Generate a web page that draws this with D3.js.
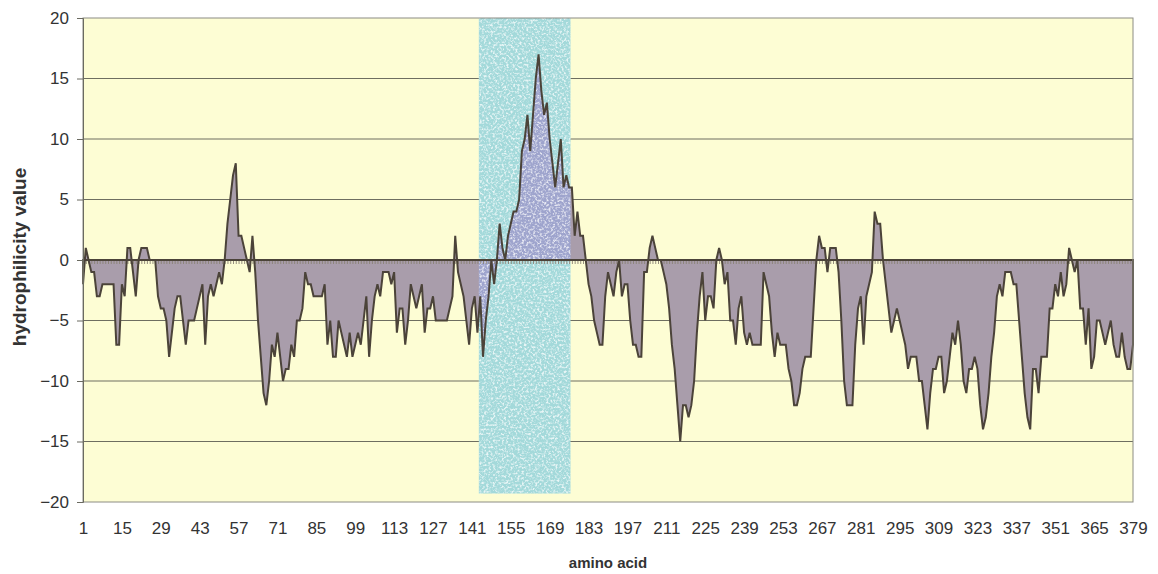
<!DOCTYPE html>
<html>
<head>
<meta charset="utf-8">
<script src="https://cdn.jsdelivr.net/npm/d3@7"></script>
<style>
  html, body { margin: 0; padding: 0; background: #ffffff; }
  svg { display: block; font-family: Arial, "Liberation Sans", sans-serif; }
</style>
</head>
<body>
<svg id="chart" width="1158" height="574"></svg>
<script>
// Amino acid positions along the sequence
const aminoAcids = d3.range(1, 380);

// Hydrophilicity value for each amino acid
const hydrophilicity = [
  -2, 1, 0, -1, -1, -3, -3, -2, -2, -2,
  -2, -2, -7, -7, -2, -3, 1, 1, -1, -3,
  0, 1, 1, 1, 0, 0, 0, -3, -4, -4,
  -5, -8, -6, -4, -3, -3, -5, -7, -5, -5,
  -5, -4, -3, -2, -7, -3, -2, -3, -2, -1,
  -2, 0, 3, 5, 7, 8, 2, 2, 1, 0,
  -1, 2, -1, -5, -8, -11, -12, -10, -7, -8,
  -6, -8, -10, -9, -9, -7, -8, -5, -5, -4,
  -1, -2, -2, -3, -3, -3, -3, -2, -7, -5,
  -8, -8, -5, -6, -7, -8, -6, -8, -7, -6,
  -7, -5, -3, -8, -5, -3, -2, -3, -1, -1,
  -1, -2, -1, -6, -4, -4, -7, -5, -2, -3,
  -4, -3, -2, -6, -4, -4, -3, -5, -5, -5,
  -5, -5, -4, -3, 2, -1, -2, -3, -5, -7,
  -4, -3, -6, -3, -8, -5, -3, 0, -2, 0,
  3, 1, 0, 2, 3, 4, 4, 5, 9, 10,
  12, 9, 12, 15, 17, 14, 12, 13, 10, 8,
  6, 8, 10, 6, 7, 6, 6, 2, 4, 2,
  2, 0, -2, -3, -5, -6, -7, -7, -3, -1,
  -2, -3, -1, 0, -3, -2, -2, -5, -7, -7,
  -8, -8, -1, -1, 1, 2, 1, 0, 0, -1,
  -2, -4, -7, -9, -12, -15, -12, -12, -13, -12,
  -10, -6, -3, -1, -5, -3, -3, -4, 0, 1,
  0, -2, -1, -5, -5, -7, -4, -3, -6, -7,
  -6, -7, -7, -7, -7, -1, -2, -3, -6, -8,
  -6, -7, -7, -7, -9, -10, -12, -12, -11, -9,
  -8, -8, -8, -4, 0, 2, 1, 1, -1, 1,
  1, 1, -1, -5, -10, -12, -12, -12, -7, -4,
  -3, -7, -3, -2, -1, 4, 3, 3, 0, -2,
  -4, -6, -5, -4, -5, -6, -7, -9, -8, -8,
  -8, -10, -10, -12, -14, -11, -9, -9, -8, -8,
  -11, -10, -8, -6, -7, -5, -7, -10, -11, -9,
  -9, -8, -9, -12, -14, -13, -11, -8, -6, -3,
  -2, -3, -1, -1, -1, -2, -2, -5, -8, -11,
  -13, -14, -9, -9, -11, -8, -8, -8, -4, -4,
  -2, -3, -1, -3, -2, 1, 0, -1, 0, -4,
  -4, -7, -4, -9, -8, -5, -5, -6, -7, -6,
  -5, -7, -8, -8, -6, -8, -9, -9, -7
];

// Category labels shown under the plot
const xTickLabels = [1, 15, 29, 43, 57, 71, 85, 99, 113, 127, 141, 155, 169, 183,
  197, 211, 225, 239, 253, 267, 281, 295, 309, 323, 337, 351, 365, 379];

// Value axis ticks
const yTicks = [-20, -15, -10, -5, 0, 5, 10, 15, 20];

// Highlighted stretch of the sequence (first and last amino acid) and its vertical span
const highlightRange = [144, 176];
const highlightSpan = [20, -19.3];

const svg = d3.select("#chart");
const plot = { left: 83, right: 1133, top: 18, bottom: 502 };

const x = d3.scalePoint().domain(aminoAcids).range([plot.left, plot.right]);
const y = d3.scaleLinear().domain([-20, 20]).range([plot.bottom, plot.top]);
const step = x.step();

const defs = svg.append("defs");

// speckled texture for the highlighted band
const f = defs.append("filter").attr("id", "speckle")
  .attr("x", 0).attr("y", 0).attr("width", "100%").attr("height", "100%");
f.append("feTurbulence").attr("type", "fractalNoise").attr("baseFrequency", 0.45)
  .attr("numOctaves", 2).attr("seed", 7).attr("result", "noise");
f.append("feColorMatrix").attr("in", "noise").attr("type", "matrix")
  .attr("values", "0 0 0 0 1  0 0 0 0 1  0 0 0 0 1  3.4 0 0 0 -1.55").attr("result", "white");
f.append("feComposite").attr("in", "white").attr("in2", "SourceGraphic").attr("operator", "in");

const bandX0 = x(highlightRange[0]) - step / 2;
const bandX1 = x(highlightRange[1]) + step / 2;

defs.append("clipPath").attr("id", "bandClip")
  .append("rect")
  .attr("x", bandX0).attr("y", y(highlightSpan[0]))
  .attr("width", bandX1 - bandX0).attr("height", y(highlightSpan[1]) - y(highlightSpan[0]));

// plot background
svg.append("rect")
  .attr("x", plot.left).attr("y", plot.top)
  .attr("width", plot.right - plot.left).attr("height", plot.bottom - plot.top)
  .attr("fill", "#fdfdd4");

// horizontal gridlines
svg.append("g").selectAll("line")
  .data(yTicks.filter(v => v !== -20 && v !== 20 && v !== 0))
  .join("line")
  .attr("x1", plot.left).attr("x2", plot.right)
  .attr("y1", d => y(d)).attr("y2", d => y(d))
  .attr("stroke", "#6e6e60").attr("stroke-width", 1.2);

// highlighted band
svg.append("rect")
  .attr("x", bandX0).attr("y", y(highlightSpan[0]))
  .attr("width", bandX1 - bandX0).attr("height", y(highlightSpan[1]) - y(highlightSpan[0]))
  .attr("fill", "#a3d9da");

const area = d3.area()
  .x((d, i) => x(aminoAcids[i]))
  .y0(y(0))
  .y1(d => y(d));

// filled profile
svg.append("path").datum(hydrophilicity)
  .attr("d", area)
  .attr("fill", "#a99dab");

// profile inside the highlighted band
svg.append("path").datum(hydrophilicity)
  .attr("d", area)
  .attr("clip-path", "url(#bandClip)")
  .attr("fill", "#9ea4cd");

// speckles over the band
svg.append("rect")
  .attr("x", bandX0).attr("y", y(highlightSpan[0]))
  .attr("width", bandX1 - bandX0).attr("height", y(highlightSpan[1]) - y(highlightSpan[0]))
  .attr("fill", "#ffffff")
  .attr("filter", "url(#speckle)")
  .attr("opacity", 0.75);

// category axis crossing at zero, with a tick at every amino acid
const xAxisZero = d3.axisBottom(x).tickValues(aminoAcids).tickSize(4).tickFormat("");
const gx0 = svg.append("g").attr("transform", `translate(0,${y(0)})`).call(xAxisZero);
gx0.select(".domain").remove();
gx0.selectAll(".tick line").attr("stroke", "#8a8275").attr("stroke-width", 0.9);
svg.append("line")
  .attr("x1", plot.left).attr("x2", plot.right)
  .attr("y1", y(0)).attr("y2", y(0))
  .attr("stroke", "#4a4339").attr("stroke-width", 1.6);

// profile outline
svg.append("path").datum(hydrophilicity)
  .attr("d", area)
  .attr("fill", "none")
  .attr("stroke", "#4b4339")
  .attr("stroke-width", 2)
  .attr("stroke-linejoin", "miter");

// plot border
svg.append("rect")
  .attr("x", plot.left).attr("y", plot.top)
  .attr("width", plot.right - plot.left).attr("height", plot.bottom - plot.top)
  .attr("fill", "none").attr("stroke", "#8c8c84").attr("stroke-width", 1);

// value axis
const yAxis = d3.axisLeft(y).tickValues(yTicks).tickSize(6).tickPadding(8);
const gy = svg.append("g").attr("transform", `translate(${plot.left},0)`).call(yAxis);
gy.select(".domain").attr("stroke", "#6a6a60");
gy.selectAll(".tick line").attr("stroke", "#6a6a60");
gy.selectAll(".tick text")
  .attr("font-size", 17).attr("fill", "#333333")
  .attr("font-family", "Arial, 'Liberation Sans', sans-serif");

// category labels under the plot
const xAxisLabels = d3.axisBottom(x).tickValues(xTickLabels).tickSize(0).tickPadding(0);
const gxl = svg.append("g").attr("transform", `translate(0,${plot.bottom})`).call(xAxisLabels);
gxl.select(".domain").remove();
gxl.selectAll(".tick text")
  .attr("y", 32).attr("dy", 0)
  .attr("font-size", 17).attr("fill", "#333333")
  .attr("font-family", "Arial, 'Liberation Sans', sans-serif");

// axis titles
svg.append("text")
  .attr("x", (plot.left + plot.right) / 2).attr("y", 568)
  .attr("text-anchor", "middle")
  .attr("font-size", 15).attr("font-weight", "bold").attr("fill", "#333333")
  .text("amino acid");

svg.append("text")
  .attr("transform", `translate(26,${(plot.top + plot.bottom) / 2 - 3}) rotate(-90)`)
  .attr("text-anchor", "middle")
  .attr("font-size", 19).attr("font-weight", "bold").attr("fill", "#333333")
  .text("hydrophilicity value");
</script>
</body>
</html>
